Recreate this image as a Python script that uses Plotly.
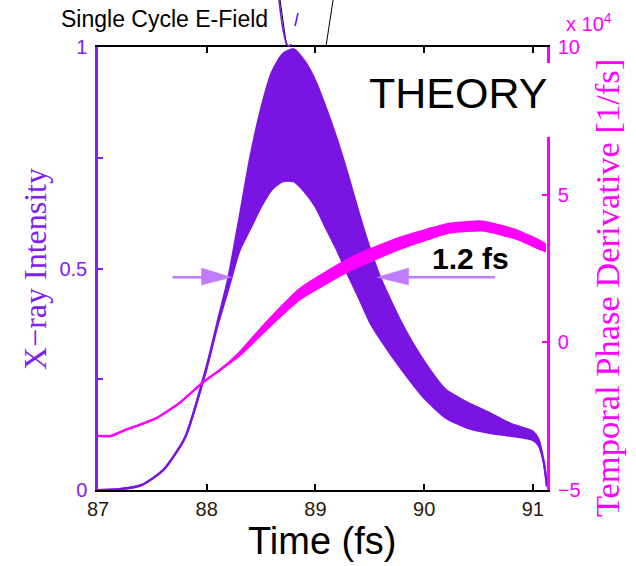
import plotly.graph_objects as go

# ---------------- data ----------------
time_fs = [87.0, 87.2, 87.4, 87.6, 87.8, 88.0, 88.1, 88.2, 88.3, 88.4, 88.5, 88.6,
           88.7, 88.8, 88.9, 89.0, 89.1, 89.2, 89.3, 89.4, 89.5, 89.6, 89.8, 90.0,
           90.2, 90.4, 90.6, 90.8, 91.0, 91.05, 91.1, 91.13]
intensity_upper = [0.0, 0.002, 0.011, 0.045, 0.118, 0.28, 0.38, 0.48, 0.613, 0.75, 0.86, 0.943,
                   0.984, 0.995, 0.968, 0.923, 0.86, 0.79, 0.71, 0.624, 0.545, 0.477, 0.373, 0.29,
                   0.226, 0.197, 0.174, 0.149, 0.132, 0.115, 0.063, 0.008]
intensity_lower = [0.0, 0.002, 0.011, 0.045, 0.118, 0.275, 0.372, 0.455, 0.54, 0.59, 0.64, 0.679,
                   0.697, 0.697, 0.674, 0.64, 0.59, 0.541, 0.486, 0.434, 0.38, 0.34, 0.27, 0.208,
                   0.163, 0.14, 0.129, 0.122, 0.113, 0.102, 0.063, 0.008]

time_phase = [87.0, 87.12, 87.23, 87.54, 87.75, 87.97, 88.12, 88.3, 88.55, 88.86, 89.32,
              89.78, 90.24, 90.54, 90.86, 91.07, 91.12]
phase_upper = [-3.17, -3.17, -3.0, -2.56, -2.05, -1.34, -0.94, -0.35, 0.68, 1.82, 2.85,
               3.55, 4.02, 4.09, 3.78, 3.42, 3.3]
phase_lower = [-3.17, -3.17, -3.0, -2.56, -2.05, -1.34, -0.94, -0.45, 0.44, 1.47, 2.44,
               3.17, 3.72, 3.79, 3.49, 3.15, 3.08]

x_ticks = [87, 88, 89, 90, 91]
y_ticks = [0, 0.25, 0.5, 0.75, 1]
y_ticktext = ["0", "", "0.5", "", "1"]
y2_ticks = [-5, 0, 5, 10]
y2_ticktext = ["\u22125", "0", "5", "10"]

# ---------------- styling ----------------
PURPLE = "#7a14e2"
PURPLE_AX = "#8020f0"
MAGENTA = "#ff00ff"
ARROW = "#c07cff"

W, H = 636, 566
L, R, T, B = 98, 546.9, 47, 490


def px(x):
    return (x - L) / (R - L)


def py(y):
    return (B - y) / (B - T)


fig = go.Figure()
fig.add_trace(go.Scatter(x=time_fs, y=intensity_lower, mode="lines",
                         line=dict(color=PURPLE, width=2.2, shape="spline", smoothing=0.6),
                         hoverinfo="skip", showlegend=False))
fig.add_trace(go.Scatter(x=time_fs, y=intensity_upper, mode="lines", fill="tonexty",
                         fillcolor=PURPLE,
                         line=dict(color=PURPLE, width=2.2, shape="spline", smoothing=0.6),
                         hoverinfo="skip", showlegend=False))
fig.add_trace(go.Scatter(x=time_phase, y=phase_lower, mode="lines", yaxis="y2",
                         line=dict(color=MAGENTA, width=2.2, shape="spline", smoothing=0.5),
                         hoverinfo="skip", showlegend=False))
fig.add_trace(go.Scatter(x=time_phase, y=phase_upper, mode="lines", yaxis="y2", fill="tonexty",
                         fillcolor=MAGENTA,
                         line=dict(color=MAGENTA, width=2.2, shape="spline", smoothing=0.5),
                         hoverinfo="skip", showlegend=False))

shapes = [
    # white box behind "THEORY" that hides part of the right axis
    dict(type="rect", xref="paper", yref="paper", x0=px(541), x1=px(552), y0=py(137), y1=py(63),
         fillcolor="white", line=dict(width=0), layer="above"),
    # cropped inset lines at the top
    dict(type="line", xref="paper", yref="paper", x0=px(280), y0=py(0), x1=px(286.5), y1=py(46),
         line=dict(color="black", width=1)),
    dict(type="line", xref="paper", yref="paper", x0=px(333), y0=py(0), x1=px(326), y1=py(46),
         line=dict(color="black", width=1)),
    dict(type="path", xref="paper", yref="paper",
         path=f"M {px(279)},{py(0)} Q {px(285)},{py(56)} {px(291)},{py(44)}",
         line=dict(color=PURPLE, width=1.6)),
    dict(type="line", xref="paper", yref="paper", x0=px(295), y0=py(26), x1=px(298), y1=py(13),
         line=dict(color=PURPLE, width=1.6)),
    # left arrow
    dict(type="line", xref="paper", yref="paper", x0=px(172.5), y0=py(277.3), x1=px(203), y1=py(277.3),
         line=dict(color=ARROW, width=2.6), layer="above"),
    dict(type="path", xref="paper", yref="paper",
         path=f"M {px(201.5)},{py(268)} L {px(231.5)},{py(277.3)} L {px(201.5)},{py(285)} Z",
         fillcolor=ARROW, line=dict(color=ARROW, width=0.5), layer="above"),
    # right arrow
    dict(type="line", xref="paper", yref="paper", x0=px(495), y0=py(277.3), x1=px(406), y1=py(277.3),
         line=dict(color=ARROW, width=2.6), layer="above"),
    dict(type="path", xref="paper", yref="paper",
         path=f"M {px(408.5)},{py(268)} L {px(377)},{py(277.3)} L {px(408.5)},{py(285)} Z",
         fillcolor=ARROW, line=dict(color=ARROW, width=0.5), layer="above"),
]


def note(text, x, y, size, color="black", family="Liberation Sans", angle=0):
    return dict(text=text, x=px(x), y=py(y), xref="paper", yref="paper",
                xanchor="center", yanchor="middle", textangle=angle, showarrow=False,
                font=dict(family=family, size=size, color=color))


annotations = [
    note("Single Cycle E-Field", 164, 19, 23),
    note("THEORY", 458, 93, 43),
    note("<b>1.2 fs</b>", 470, 258, 30),
    note("x 10<sup>4</sup>", 589, 23, 20, MAGENTA),
    note("Time (fs)", 322, 541, 38),
    note("X\u2212ray Intensity", 35, 269, 32, PURPLE_AX, "Liberation Serif", -90),
    note("Temporal Phase Derivative [1/fs]", 607, 288, 34.5, MAGENTA, "Liberation Serif", -90),
]

fig.update_layout(
    width=W, height=H,
    margin=dict(l=L, r=W - R, t=T, b=H - B, pad=0),
    plot_bgcolor="white", paper_bgcolor="white",
    showlegend=False,
    shapes=shapes,
    annotations=annotations,
    xaxis=dict(range=[87, 91.13], tickvals=x_ticks, ticks="inside", ticklen=6, tickwidth=2,
               tickcolor="black", showline=True, linecolor="black", linewidth=2,
               mirror="ticks", showgrid=False, zeroline=False, ticklabelstandoff=0,
               tickfont=dict(family="Liberation Sans", size=20, color="#2a1a0c")),
    yaxis=dict(range=[0, 1], tickvals=y_ticks, ticktext=y_ticktext, ticks="inside", ticklen=5,
               tickwidth=2, tickcolor=PURPLE_AX, showline=True, linecolor=PURPLE_AX, linewidth=2.5,
               showgrid=False, zeroline=False, ticklabelstandoff=4,
               tickfont=dict(family="Liberation Sans", size=20, color=PURPLE_AX)),
    yaxis2=dict(range=[-5, 10], overlaying="y", side="right", tickvals=y2_ticks,
                ticktext=y2_ticktext, ticks="inside", ticklen=5, tickwidth=2, tickcolor=MAGENTA,
                showline=True, linecolor=MAGENTA, linewidth=2.5, showgrid=False, zeroline=False,
                ticklabelstandoff=4,
                tickfont=dict(family="Liberation Sans", size=20, color=MAGENTA)),
)

fig.write_html("out.html")
